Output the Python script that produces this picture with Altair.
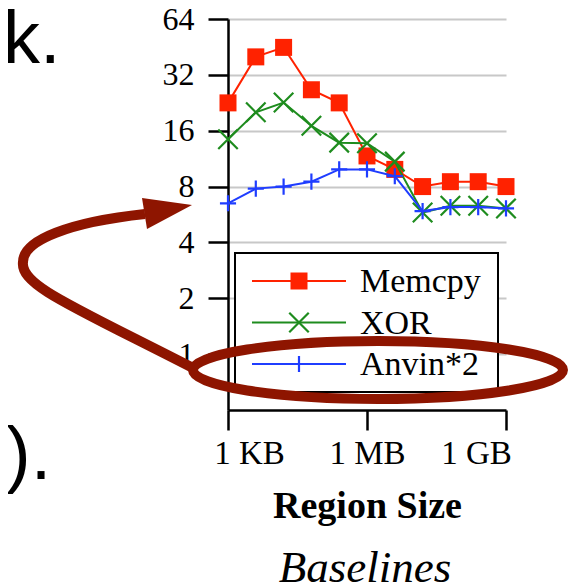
import altair as alt
import pandas as pd

# ---------------- data ----------------
sizes = [1024, 4096, 16384, 65536, 262144, 1048576, 4194304,
         16777216, 67108864, 268435456, 1073741824]
series_names = ["Memcpy", "XOR", "Anvin*2"]
memcpy = [22.6, 40.0, 45.0, 26.6, 22.6, 11.7, 9.9, 8.0, 8.5, 8.5, 8.0]
xor_vals = [14.4, 20.1, 22.7, 17.0, 13.8, 13.7, 10.9, 5.8, 6.3, 6.3, 6.1]
anvin = [6.5, 7.8, 8.0, 8.5, 9.9, 9.9, 9.1, 5.9, 6.2, 6.2, 6.1]
series_values = [memcpy, xor_vals, anvin]

x_tick_values = [1024, 1048576, 1073741824]
x_tick_labels = ["1 KB", "1 MB", "1 GB"]
y_tick_values = [1, 2, 4, 8, 16, 32, 64]

colors = ["#ff2200", "#1e8c1e", "#1f3dff"]
X_PATH = "M -1 -1 L 1 1 M -1 1 L 1 -1"
PLUS_PATH = "M -1 0 L 1 0 M 0 -1 L 0 1"
shapes = ["square", X_PATH, PLUS_PATH]
sym_sizes = [289, 380, 260]
sym_filled = [True, False, False]

rows = []
for name, vals in zip(series_names, series_values):
    for s, v in zip(sizes, vals):
        rows.append({"size": s, "value": v, "series": name})
df = pd.DataFrame(rows)

SERIF = "Liberation Serif"
SANS = "Liberation Sans"
ARROW = "#8e1500"

label_expr = " : ".join(
    f"datum.value == {v} ? '{t}'" for v, t in zip(x_tick_values[:-1], x_tick_labels[:-1])
) + f" : '{x_tick_labels[-1]}'"

x_scale = alt.Scale(type="log", base=2, domain=[sizes[0], sizes[-1]], nice=False)
y_scale = alt.Scale(type="log", base=2, domain=[0.5, 64], nice=False)

x_axis = alt.Axis(
    values=x_tick_values, labelExpr=label_expr, title="Region Size", grid=False,
    tickSize=20, tickWidth=2.5, tickColor="black", domainWidth=2.5, domainColor="black",
    labelFont=SERIF, labelFontSize=33, labelColor="black", labelPadding=7,
    labelFlush=False, labelOverlap=False,
    labelOffset={"condition": [{"test": "datum.value < 2000", "value": 21},
                               {"test": "datum.value > 1000000000", "value": -30}],
                 "value": 0},
    titleFont=SERIF, titleFontSize=38, titleFontWeight="bold", titleColor="black",
    titleBaseline="alphabetic", titleY=107,
)
y_axis = alt.Axis(
    values=y_tick_values, format="d", title=None, grid=True,
    gridColor="#c8c8c8", gridWidth=2,
    tickSize=20, tickWidth=2.5, tickColor="black", domainWidth=2.5, domainColor="black",
    labelFont=SERIF, labelFontSize=32, labelColor="black", labelPadding=14,
    labelOverlap=False,
)

layers = []
one = pd.DataFrame({"a": [0]})

for i, name in enumerate(series_names):
    base = alt.Chart(df).transform_filter(alt.datum.series == name)
    line = base.mark_line(color=colors[i], strokeWidth=2).encode(
        x=alt.X("size:Q", scale=x_scale, axis=x_axis),
        y=alt.Y("value:Q", scale=y_scale, axis=y_axis),
    )
    pts = base.mark_point(
        shape=shapes[i], size=sym_sizes[i], color=colors[i], filled=sym_filled[i],
        strokeWidth=2.2, opacity=1,
    ).encode(
        x=alt.X("size:Q", scale=x_scale, axis=x_axis),
        y=alt.Y("value:Q", scale=y_scale, axis=y_axis),
    )
    layers += [line, pts]

# ---------------- legend (drawn manually) ----------------
layers.append(
    alt.Chart(one).mark_rect(fill="white", stroke="black", strokeWidth=2).encode(
        x=alt.value(7), x2=alt.value(270), y=alt.value(234), y2=alt.value(373)
    )
)
for i, name in enumerate(series_names):
    ly = 262 + 41.5 * i
    layers.append(
        alt.Chart(one).mark_rule(color=colors[i], strokeWidth=2).encode(
            x=alt.value(24), x2=alt.value(118), y=alt.value(ly)
        )
    )
    layers.append(
        alt.Chart(one).mark_point(
            shape=shapes[i], size=sym_sizes[i], color=colors[i], filled=sym_filled[i],
            strokeWidth=2.2, opacity=1,
        ).encode(x=alt.value(71), y=alt.value(ly))
    )
    layers.append(
        alt.Chart(one).mark_text(
            text=name, font=SERIF, fontSize=34, align="left", baseline="middle", color="black"
        ).encode(x=alt.value(132), y=alt.value(ly + 1))
    )

# ---------------- slide annotations ----------------
ELLIPSE = "M -35 351 A 185 29 0 1 0 335 351 A 185 29 0 1 0 -35 351 Z"
CURVE = "M -35 349 C -158 286 -208 266 -205 243 C -205 221 -158 203 -83 195"
HEAD = "M -36 186 L -86 179 L -81 210 Z"

layers.append(
    alt.Chart(one).mark_point(
        shape=ELLIPSE, size=4, filled=False, color=ARROW, strokeWidth=10, opacity=1
    ).encode(x=alt.value(0), y=alt.value(0))
)
layers.append(
    alt.Chart(one).mark_point(
        shape=CURVE, size=4, filled=False, color=ARROW, strokeWidth=10, opacity=1
    ).encode(x=alt.value(0), y=alt.value(0))
)
layers.append(
    alt.Chart(one).mark_point(
        shape=HEAD, size=4, filled=True, color=ARROW, opacity=1
    ).encode(x=alt.value(0), y=alt.value(0))
)

layers.append(
    alt.Chart(one).mark_text(
        text="Baselines", font=SERIF, fontSize=45, fontStyle="italic",
        align="center", baseline="alphabetic", color="black"
    ).encode(x=alt.value(137), y=alt.value(563))
)
layers.append(
    alt.Chart(one).mark_text(
        text="k.", font=SANS, fontSize=74, align="left", baseline="alphabetic", color="black"
    ).encode(x=alt.value(-225), y=alt.value(44))
)
layers.append(
    alt.Chart(one).mark_text(
        text=").", font=SANS, fontSize=74, align="left", baseline="alphabetic", color="black"
    ).encode(x=alt.value(-222), y=alt.value(460))
)

chart = alt.layer(*layers).properties(
    width=278, height=391,
    autosize=alt.AutoSizeParams(type="none"),
    padding={"left": 220, "top": 11, "right": 62, "bottom": 177},
).configure_view(stroke=None)

chart.save("out.html", embed_options={"renderer": "svg", "actions": False})
